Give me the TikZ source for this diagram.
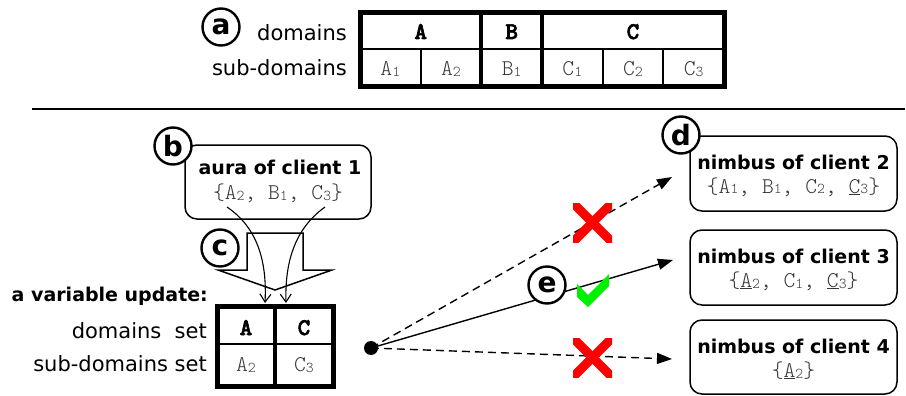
\documentclass[tikz,border=0pt]{standalone}
\usepackage{fontspec}
\setmainfont{DejaVu Sans}
\setmonofont{Latin Modern Mono Light}
\newfontfamily\hdmono{Latin Modern Mono Light}[BoldFeatures={FakeBold=2.5}]
\usetikzlibrary{arrows.meta}
\definecolor{setgray}{gray}{0.22}
\definecolor{xred}{RGB}{255,0,0}
\definecolor{okgreen}{RGB}{0,240,0}
\newcommand{\mysub}[1]{\raisebox{-1pt}{\fontsize{15}{15}\selectfont #1}}
\newcommand{\el}[2]{#1\mysub{#2}}
\begin{document}
\begin{tikzpicture}[x=1pt,y=-1pt,
  lbl/.style={circle,draw,line width=2.4pt,minimum size=37pt,inner sep=0pt,fill=white,font=\bfseries\fontsize{28}{28}\selectfont},
  sansr/.style={font=\fontsize{21}{21}\selectfont, inner sep=0pt},
  sansb/.style={font=\bfseries\fontsize{19}{19}\selectfont, inner sep=0pt},
  monoset/.style={font=\ttfamily\fontsize{22.5}{22.5}\selectfont, text=setgray, inner sep=0pt},
  monohd/.style={font=\hdmono\bfseries\fontsize{24}{24}\selectfont, inner sep=0pt},
  rbox/.style={draw, rounded corners=12pt, line width=1.5pt},
  thickline/.style={line width=5pt},
  midline/.style={line width=4pt},
  thinline/.style={line width=2.2pt},
  dasharrow/.style={dashed, dash pattern=on 8pt off 5pt, line width=1.4pt, -{Triangle[length=15pt,width=11pt]}},
  solidarrow/.style={line width=1.4pt, -{Triangle[length=15pt,width=11pt]}},
  curvearrow/.style={line width=1.1pt, -{Straight Barb[length=8pt,width=11pt]}},
  xmark/.style={line width=9pt, xred},
]
\useasboundingbox (0,0) rectangle (906,396);

% ---------- (a) top table ----------
\node[lbl] (la) at (221,27) {a};
\node[sansr, anchor=base east] (ldom) at (347,41) {domains};
\node[sansr, anchor=base east] (lsub) at (347,76) {sub-domains};

\draw[thinline] (360,49) -- (724,49);
\draw[thinline] (420.7,49) -- (420.7,87);
\draw[thinline] (602.7,49) -- (602.7,87);
\draw[thinline] (663.3,49) -- (663.3,87);
\draw[midline] (481.3,13) -- (481.3,87);
\draw[midline] (542,13) -- (542,87);
\draw[thickline] (360,13) rectangle (724,87);

\node[monohd, anchor=base] (tA) at (420.7,39) {A};
\node[monohd, anchor=base] (tB) at (511.7,39) {B};
\node[monohd, anchor=base] (tC) at (633,39) {C};
\node[monoset, anchor=base] (tA1) at (390.3,76) {\el{A}{1}};
\node[monoset, anchor=base] (tA2) at (451,76) {\el{A}{2}};
\node[monoset, anchor=base] (tB1) at (511.7,76) {\el{B}{1}};
\node[monoset, anchor=base] (tC1) at (572.3,76) {\el{C}{1}};
\node[monoset, anchor=base] (tC2) at (633,76) {\el{C}{2}};
\node[monoset, anchor=base] (tC3) at (693.7,76) {\el{C}{3}};

% separator
\draw[line width=2pt] (32,109) -- (905,109);

% ---------- (b) aura ----------
\draw[rbox] (185,145) rectangle (371,219);
\node[sansb, anchor=base] (aura) at (280,175) {aura of client 1};
\node[monoset, anchor=base] (auraset) at (278,199) {\{\el{A}{2}, \el{B}{1}, \el{C}{3}\}};
\node[lbl] (lb) at (173,146) {b};

% ---------- (c) hollow arrow ----------
\draw[line width=1.5pt, fill=white] (247,233) -- (303,233) -- (303,270) -- (332,270) -- (275,290) -- (218,270) -- (247,270) -- cycle;
\node[lbl] (lc) at (220,248) {c};

% small table
\node[sansb, anchor=base east] (upd) at (208,301) {a variable update:};
\node[sansr, anchor=base east] (dset) at (207,338) {domains\ \ set};
\node[sansr, anchor=base east] (sset) at (207,371) {sub-domains set};

\draw[thinline] (217,344) -- (333,344);
\draw[midline] (275,306) -- (275,386);
\draw[thickline] (217,306) rectangle (333,386);
\node[monohd, anchor=base] (sA) at (246,335) {A};
\node[monohd, anchor=base] (sC) at (304,335) {C};
\node[monoset, anchor=base] (sA2) at (246,371) {\el{A}{2}};
\node[monoset, anchor=base] (sC3) at (304,371) {\el{C}{3}};

% curved arrows
\coordinate (f1) at (227,207);
\coordinate (e1) at (265,303);
\coordinate (f2) at (325,207);
\coordinate (e2) at (286,303);
\draw[curvearrow] (f1) .. controls (258,228) and (267,262) .. (e1);
\draw[curvearrow] (f2) .. controls (293,230) and (285,265) .. (e2);

% ---------- (d) nimbus boxes ----------
\draw[rbox] (690,136) rectangle (897,211);
\node[sansb, anchor=base] (n2) at (793.5,169) {nimbus of client 2};
\node[monoset, anchor=base] (n2s) at (793.5,193) {\{\el{A}{1}, \el{B}{1}, \el{C}{2}, \underline{C}\mysub{3}\}};
\draw[rbox] (690,230) rectangle (897,305);
\node[sansb, anchor=base] (n3) at (793.5,263) {nimbus of client 3};
\node[monoset, anchor=base] (n3s) at (793.5,287) {\{\underline{A}\mysub{2}, \el{C}{1}, \underline{C}\mysub{3}\}};
\draw[rbox] (690,320) rectangle (897,394);
\node[sansb, anchor=base] (n4) at (793.5,353) {nimbus of client 4};
\node[monoset, anchor=base] (n4s) at (793.5,377) {\{\underline{A}\mysub{2}\}};
\node[lbl] (ld) at (681,135) {d};

% ---------- (e) arrows ----------
\node[circle, fill, minimum size=14pt, inner sep=0pt] (dot) at (371,348) {};
\coordinate (t2) at (672,177);
\coordinate (t3) at (673,260);
\coordinate (t4) at (672,359);
\draw[dasharrow] (dot.center) -- (t2);
\draw[solidarrow] (dot.center) -- (t3);
\draw[dasharrow] (dot.center) -- (t4);
\node[lbl] (le) at (547,285) {e};

% red crosses
\begin{scope}
\clip (573,203) rectangle (612,242);
\draw[xmark] (566,196) -- (619,249);
\draw[xmark] (619,196) -- (566,249);
\end{scope}
\begin{scope}
\clip (573,338) rectangle (612,377);
\draw[xmark] (566,331) -- (619,384);
\draw[xmark] (619,331) -- (566,384);
\end{scope}
% green check
\fill[okgreen] (577,284) -- (588,295) -- (609,274) -- (609,286) -- (588,307) -- (577,297) -- cycle;
\end{tikzpicture}
\end{document}
